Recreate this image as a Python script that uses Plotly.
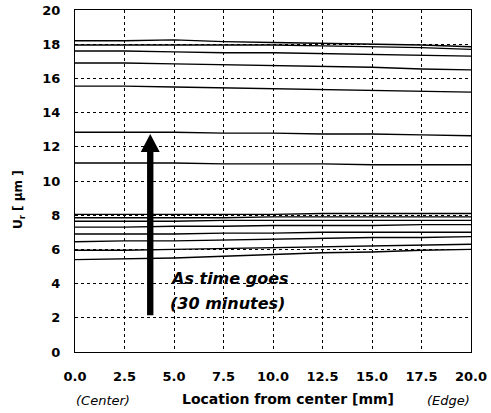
import plotly.graph_objects as go

# ---- data ----
location_mm = [0.0, 2.5, 5.0, 7.5, 10.0, 12.5, 15.0, 17.5, 20.0]
ur_series = {
    "t01": [5.40, 5.45, 5.50, 5.60, 5.70, 5.80, 5.85, 5.95, 6.00],
    "t02": [5.95, 5.95, 6.00, 6.05, 6.10, 6.15, 6.20, 6.25, 6.30],
    "t03": [6.45, 6.50, 6.50, 6.55, 6.60, 6.65, 6.70, 6.70, 6.75],
    "t04": [6.90, 6.90, 6.90, 6.95, 6.95, 7.00, 7.00, 7.00, 7.00],
    "t05": [7.30, 7.30, 7.35, 7.35, 7.40, 7.40, 7.40, 7.45, 7.45],
    "t06": [7.65, 7.65, 7.65, 7.70, 7.70, 7.70, 7.70, 7.70, 7.70],
    "t07": [7.85, 7.85, 7.85, 7.85, 7.90, 7.90, 7.90, 7.90, 7.90],
    "t08": [8.05, 8.05, 8.05, 8.05, 8.05, 8.10, 8.10, 8.10, 8.10],
    "t09": [11.05, 11.05, 11.05, 11.00, 11.00, 11.00, 10.95, 10.95, 10.95],
    "t10": [12.85, 12.85, 12.85, 12.80, 12.80, 12.75, 12.75, 12.70, 12.65],
    "t11": [15.55, 15.55, 15.50, 15.45, 15.40, 15.35, 15.30, 15.25, 15.20],
    "t12": [16.90, 16.90, 16.85, 16.80, 16.75, 16.70, 16.65, 16.55, 16.50],
    "t13": [17.60, 17.60, 17.55, 17.50, 17.50, 17.45, 17.40, 17.35, 17.30],
    "t14": [17.95, 17.95, 17.95, 17.95, 17.95, 17.90, 17.85, 17.80, 17.70],
    "t15": [18.20, 18.20, 18.25, 18.15, 18.10, 18.05, 18.00, 17.95, 17.85],
}
x_ticks = [0.0, 2.5, 5.0, 7.5, 10.0, 12.5, 15.0, 17.5, 20.0]
x_tick_labels = ["0.0", "2.5", "5.0", "7.5", "10.0", "12.5", "15.0", "17.5", "20.0"]
y_ticks = [0, 2, 4, 6, 8, 10, 12, 14, 16, 18, 20]

# arrow (data units)
arrow_x = 3.8
arrow_y0 = 2.15
arrow_head_base = 11.7
arrow_tip = 12.75
shaft_half = 0.16
head_half = 0.48

FONT_B = "DejaVu Sans"

W, H = 491, 413
L, R, T, B = 75, 19.5, 10, 61
pw, ph = W - L - R, H - T - B


def px_to_paper(px, py):
    return (px - L) / pw, (H - B - py) / ph


fig = go.Figure()
for name, vals in ur_series.items():
    fig.add_trace(go.Scatter(x=location_mm, y=vals, mode="lines",
                             line=dict(color="black", width=1.4),
                             showlegend=False, name=name))

fig.add_shape(type="rect", xref="x", yref="y",
              x0=arrow_x - shaft_half, x1=arrow_x + shaft_half,
              y0=arrow_y0, y1=arrow_head_base,
              fillcolor="black", line=dict(width=0))
fig.add_shape(type="path", xref="x", yref="y",
              path=f"M {arrow_x - head_half} {arrow_head_base} L {arrow_x + head_half} {arrow_head_base} L {arrow_x} {arrow_tip} Z",
              fillcolor="black", line=dict(width=0))

fig.add_annotation(x=4.72, y=4.27, xref="x", yref="y", xanchor="left", yanchor="middle",
                   text="<b><i>As time goes</i></b>", showarrow=False,
                   font=dict(family=FONT_B, size=16, color="black"))
fig.add_annotation(x=4.72, y=2.85, xref="x", yref="y", xanchor="left", yanchor="middle",
                   text="<b><i>(30 minutes)</i></b>", showarrow=False,
                   font=dict(family=FONT_B, size=16, color="black"))

# axis titles & side notes (pixel positions -> paper)
side_texts = [
    (288, 399, "<b>Location from center [mm]</b>", 14, 0),
    (103, 400, "<i>(Center)</i>", 13, 0),
    (449, 400, "<i>(Edge)</i>", 13, 0),
    (19, 200, "<b>U<sub>r</sub> [ μm ]</b>", 12, -90),
]
for px, py, txt, sz, ang in side_texts:
    xp, yp = px_to_paper(px, py)
    fig.add_annotation(x=xp, y=yp, xref="paper", yref="paper", showarrow=False,
                       xanchor="center", yanchor="middle", text=txt, textangle=ang,
                       font=dict(family=FONT_B, size=sz, color="black"))

fig.update_layout(
    template="none",
    width=W, height=H,
    margin=dict(l=L, r=R, t=T, b=B, autoexpand=False),
    paper_bgcolor="white", plot_bgcolor="white",
    font=dict(family=FONT_B, color="black"),
)
fig.update_xaxes(range=[0, 20], tickvals=x_ticks, ticktext=[f"<b>{t}</b>" for t in x_tick_labels],
                 showgrid=True, gridcolor="black", griddash="dot", gridwidth=1,
                 showline=True, linecolor="black", linewidth=1, mirror=True,
                 zeroline=False, ticks="", ticklabelstandoff=12, automargin=False,
                 tickfont=dict(family=FONT_B, size=13, color="black"))
fig.update_yaxes(range=[0, 20], tickvals=y_ticks, ticktext=[f"<b>{t}</b>" for t in y_ticks],
                 showgrid=True, gridcolor="black", griddash="dot", gridwidth=1,
                 showline=True, linecolor="black", linewidth=1, mirror=True,
                 zeroline=False, ticks="", ticklabelstandoff=11, automargin=False,
                 tickfont=dict(family=FONT_B, size=13, color="black"))

fig.write_html("out.html", config={"displayModeBar": False},
               post_script="document.body.style.margin='0';document.body.style.overflow='hidden';")
